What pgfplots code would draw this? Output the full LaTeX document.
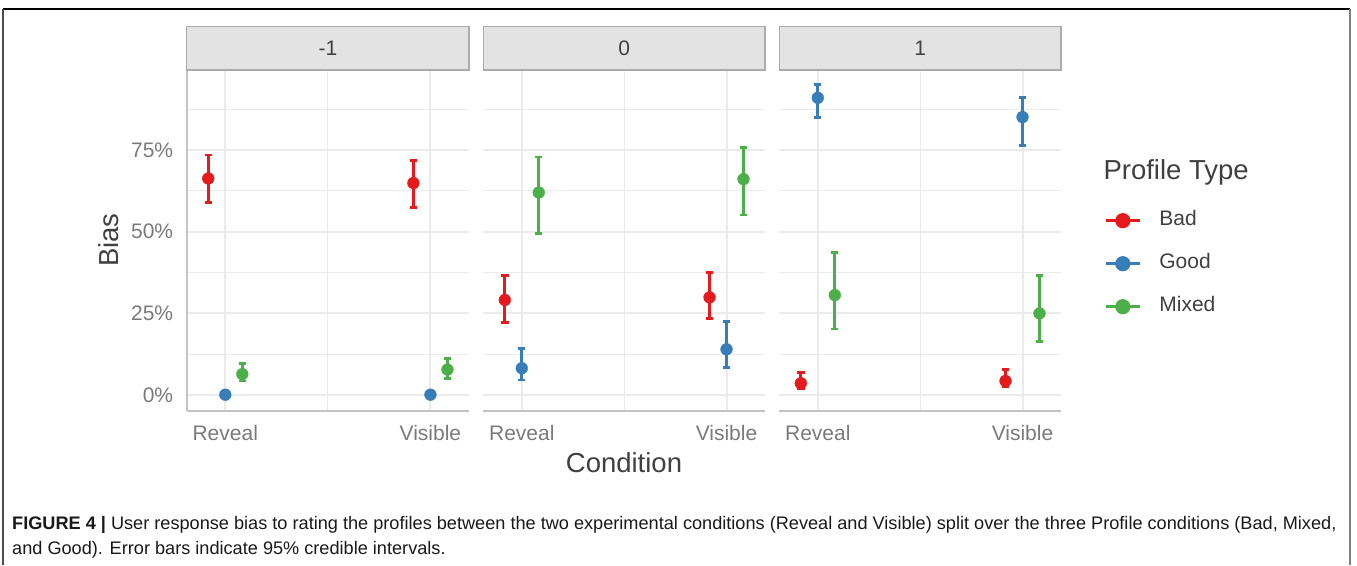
\documentclass[border=0pt]{standalone}
\usepackage{fontspec}
\setmainfont{Liberation Sans}
\usepackage{pgfplots}
\pgfplotsset{compat=1.18}
\definecolor{cbad}{HTML}{E41A1C}
\definecolor{cgood}{HTML}{377EB8}
\definecolor{cmixed}{HTML}{4DAF4A}
\definecolor{gridc}{HTML}{EBEBEB}
\definecolor{axc}{HTML}{C4C4C4}
\definecolor{tickc}{HTML}{7A7A7A}
\definecolor{titlec}{HTML}{404040}
\definecolor{stripc}{HTML}{E3E3E3}
\definecolor{stripb}{HTML}{ABABAB}

\pgfplotsset{
  panel/.style={
    scale only axis, width=282pt, height=340pt,
    xmin=0.812, xmax=2.188, ymin=-4.8, ymax=99.3,
    xtick={1,2}, xticklabels={Reveal,Visible}, minor xtick={1.5},
    ytick={0,25,50,75}, minor ytick={12.5,37.5,62.5,87.5},
    grid=both,
    major grid style={line width=2pt, color=gridc},
    minor grid style={line width=1pt, color=gridc},
    axis x line*=bottom, axis y line*=left,
    axis line style={-, line width=2pt, color=axc},
    major tick length=0pt, minor tick length=0pt,
    tick label style={font=\fontsize{21}{21}\selectfont, text=tickc},
    xticklabel style={yshift=-11pt},
    yticklabel style={xshift=-10pt},
    /pgf/number format/assume math mode=true,
    clip=false,
    error bars/y dir=both, error bars/y explicit,
    error bars/error bar style={line width=2.7pt},
    error bars/error mark options={line width=2.8pt, mark size=3.7pt, rotate=90},
  },
  ser/.style={only marks, mark=*, mark size=5.9pt, color=#1, mark options={fill=#1, draw=#1}},
}

\begin{document}
\begin{tikzpicture}[x=1pt,y=1pt]
\useasboundingbox (0,0) rectangle (1357,565);
% outer frame
\draw[line width=1.6pt, black] (1350,556) -- (3,556);
\draw[line width=1.6pt, black!70] (3,0) -- (3,556);
\draw[line width=1.6pt, black!50] (1350,0) -- (1350,556);

% ---------- Panel -1 ----------
\begin{axis}[panel, at={(186.7pt,154.3pt)}, anchor=south west, width=282.3pt,
  yticklabels={0\%,25\%,50\%,75\%}]
\addplot+[ser=cbad] table[y error plus=ep, y error minus=em] {
x y ep em
0.917 66.3 7.2 7.3
1.917 64.9 6.9 7.4
};
\addplot+[ser=cgood] table[y error plus=ep, y error minus=em] {
x y ep em
1 0.1 0.3 0.1
2 0.1 0.3 0.1
};
\addplot+[ser=cmixed] table[y error plus=ep, y error minus=em] {
x y ep em
1.083 6.4 3.3 2.1
2.083 7.8 3.3 2.7
};
\end{axis}

% ---------- Panel 0 ----------
\begin{axis}[panel, at={(483.3pt,154.3pt)}, anchor=south west, width=281.7pt,
  yticklabels={}, y axis line style={draw=none}]
\addplot+[ser=cbad] table[y error plus=ep, y error minus=em] {
x y ep em
0.917 29.1 7.6 6.9
1.917 29.9 7.6 6.5
};
\addplot+[ser=cgood] table[y error plus=ep, y error minus=em] {
x y ep em
1 8.2 6.1 3.6
2 14.0 8.4 5.6
};
\addplot+[ser=cmixed] table[y error plus=ep, y error minus=em] {
x y ep em
1.083 62.0 10.9 12.5
2.083 66.1 9.6 11.0
};
\end{axis}

% ---------- Panel 1 ----------
\begin{axis}[panel, at={(779.3pt,154.3pt)}, anchor=south west, width=281.7pt,
  yticklabels={}, y axis line style={draw=none},
  legend style={at={(axis description cs:1.1526,0.5888)}, anchor=north west,
    draw=none, fill=none, inner sep=0pt, row sep=23pt, column sep=18pt,
    font=\fontsize{21}{21}\selectfont, text=titlec,
    nodes={inner sep=0pt, text height=15pt, text depth=5pt}},
  legend cell align=left,
  legend image code/.code={\draw[sharp plot, line width=3.2pt, mark repeat=2, mark phase=2, mark size=6pt] plot coordinates {(0pt,0pt)(17pt,0pt)(34pt,0pt)};}]
\addplot+[ser=cbad] table[y error plus=ep, y error minus=em] {
x y ep em
0.917 3.6 3.2 1.6
1.917 4.3 3.4 1.7
};
\addlegendentry{Bad}
\addplot+[ser=cgood] table[y error plus=ep, y error minus=em] {
x y ep em
1 91.0 4.1 6.1
2 85.1 5.9 8.6
};
\addlegendentry{Good}
\addplot+[ser=cmixed] table[y error plus=ep, y error minus=em] {
x y ep em
1.083 30.6 13.1 10.4
2.083 25.0 11.7 8.7
};
\addlegendentry{Mixed}
\end{axis}

% strips
\foreach \xa/\xb/\lab in {186.7/469/{-1}, 483.3/765/{0}, 779.3/1061/{1}} {
  \draw[fill=stripc, draw=stripb, line width=1.5pt] (\xa,495) rectangle (\xb,538.3);
  \node[font=\fontsize{21}{21}\selectfont, text=titlec, inner sep=0pt] at ({(\xa+\xb)/2},516.6) {\lab};
}

% axis titles
\node[rotate=90, anchor=base, inner sep=0pt, font=\fontsize{27.5}{27.5}\selectfont, text=titlec] at (118.3,325) {Bias};
\node[anchor=base, inner sep=0pt, font=\fontsize{27.5}{27.5}\selectfont, text=titlec] at (624,92.7) {Condition};
\node[anchor=base west, inner sep=0pt, font=\fontsize{27.5}{27.5}\selectfont, text=titlec] at (1103.3,385) {Profile Type};

% caption
\node[anchor=base west, inner sep=0pt, font=\fontsize{18.15}{18}\selectfont, text=black!90] at (12,35.5)
  {\textbf{FIGURE 4 |} User response bias to rating the profiles between the two experimental conditions (Reveal and Visible) split over the three Profile conditions (Bad, Mixed,};
\node[anchor=base west, inner sep=0pt, font=\fontsize{18.15}{18}\selectfont, text=black!90] at (12,10.5)
  {and Good). Error bars indicate 95\% credible intervals.};
\end{tikzpicture}
\end{document}
